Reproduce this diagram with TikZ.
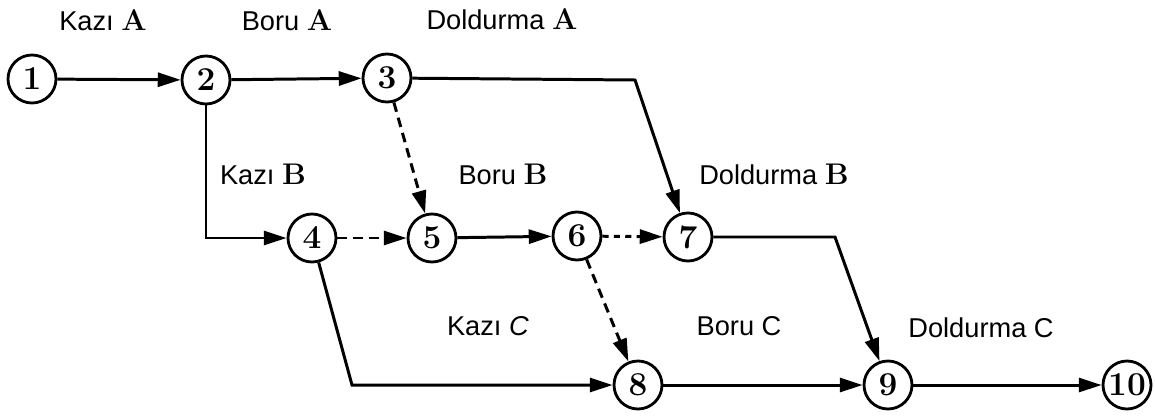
\documentclass[tikz,border=0pt]{standalone}
\usepackage{fontspec}
\newfontfamily\lblfont{Liberation Sans}
\usetikzlibrary{arrows.meta, positioning, calc}

% bold serif letter inside a sans label
\newcommand{\grp}[1]{\textbf{\rmfamily\fontsize{17}{17}\selectfont #1}}

\begin{document}
\begin{tikzpicture}[
    x=0.02cm, y=-0.02cm,
    event/.style={draw, circle, line width=1.6pt, minimum size=0.96cm, inner sep=0pt, font=\fontsize{19}{19}\selectfont\bfseries},
    act/.style={line width=1.7pt, -{Triangle[length=13pt, width=8pt]}},
    dummy/.style={act, dash pattern=on 5.5pt off 3.5pt},
    label/.style={font=\lblfont\fontsize{15.5}{15.5}\selectfont}
]

\useasboundingbox (0,0) rectangle (1155,419);

% Events
\node[event] (n1)  at (32,79)   {1};
\node[event] (n2)  at (206,80)  {2};
\node[event] (n3)  at (387,78)  {3};
\node[event] (n4)  at (312,238) {4};
\node[event] (n5)  at (432,238) {5};
\node[event] (n6)  at (577,236) {6};
\node[event] (n7)  at (688,237) {7};
\node[event] (n8)  at (638,385) {8};
\node[event] (n9)  at (888,385) {9};
\node[event] (n10) at (1127,385) {10};

% Bends
\coordinate (c37) at (635,80);
\coordinate (c24) at (n2 |- n4);
\coordinate (c48) at (352,385);
\coordinate (c79) at (835,237);

% Activities
\draw[act] (n1) -- (n2);
\draw[act] (n2) -- (n3);
\draw[act] (n3) -- (c37) -- (n7);
\draw[act] (n2) -- (c24) -- (n4);
\draw[act] (n5) -- (n6);
\draw[act] (n4) -- (c48) -- (n8);
\draw[act] (n7) -- (c79) -- (n9);
\draw[act] (n8) -- (n9);
\draw[act] (n9) -- (n10);

% Dummy activities
\draw[dummy] (n3) -- (n5);
\draw[dummy] (n4) -- (n5);
\draw[dummy, dash pattern=on 3.5pt off 3pt] (n6) -- (n7);
\draw[dummy] (n6) -- (n8);

% Labels
\node[label] (kA) at (103,20)  {Kaz\i{} \grp{A}};
\node[label] (bA) at (287,20)  {Boru \grp{A}};
\node[label] (dA) at (502,19)  {Doldurma \grp{A}};
\node[label] (kB) at (263,174) {Kaz\i{} \grp{B}};
\node[label] (bB) at (503,174) {Boru \grp{B}};
\node[label] (dB) at (774,174) {Doldurma \grp{B}};
\node[label] (kC) at (488,326) {Kaz\i{} \textit{C}};
\node[label] (bC) at (739,326) {Boru C};
\node[label] (dC) at (981,328) {Doldurma C};

\end{tikzpicture}
\end{document}
